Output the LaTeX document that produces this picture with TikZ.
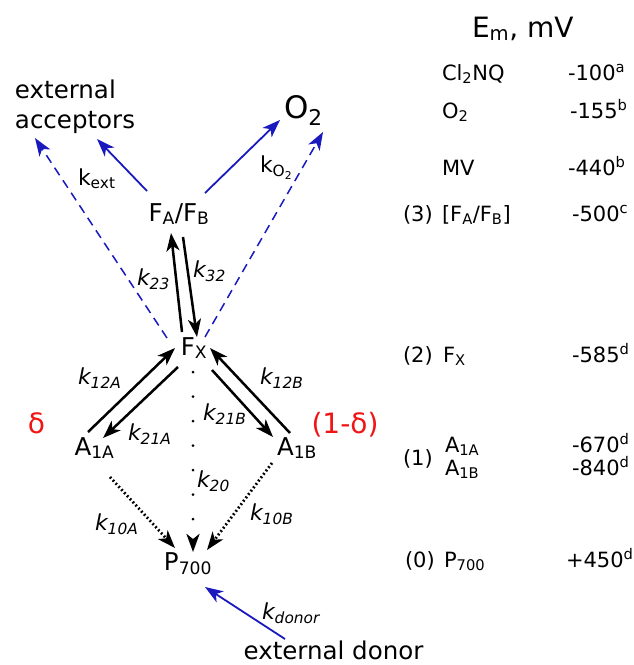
\documentclass[tikz,border=0pt]{standalone}
\usepackage{fontspec}
\setmainfont{DejaVu Sans}
\usetikzlibrary{arrows.meta,calc}
\definecolor{myblue}{RGB}{25,25,190}
\definecolor{myred}{RGB}{240,20,20}
\newcommand{\sbs}[1]{\textsubscript{#1}}
\newcommand{\sps}[1]{\textsuperscript{#1}}
\begin{document}
\begin{tikzpicture}[x=1pt,y=-1pt,
  every node/.style={inner sep=0pt,outer sep=0pt},
  mainlbl/.style={font=\fontsize{24.5}{30}\selectfont},
  klbl/.style={font=\fontsize{22}{26}\selectfont\itshape,anchor=base west},
  kup/.style={font=\fontsize{22}{26}\selectfont,anchor=base west},
  redlbl/.style={font=\fontsize{28}{32}\selectfont,text=myred,anchor=base},
  tbl/.style={font=\fontsize{21}{25}\selectfont,anchor=base west},
  tip/.style={-{Stealth[length=18pt,width=13pt,inset=5pt,line cap=butt]}},
  blk/.style={line width=2.5pt,tip},
  blu/.style={draw=myblue,line width=1.8pt,tip},
  bludash/.style={draw=myblue,line width=1.5pt,dash pattern=on 9pt off 6pt,tip},
  dots/.style={line width=2.8pt,dash pattern=on 1.8pt off 2.4pt,tip},
  sparse/.style={line width=3pt,line cap=round,dash pattern=on 0pt off 24.5pt,tip}
]
\useasboundingbox (0,0) rectangle (634,665);

% main nodes
\node[mainlbl,anchor=north west,align=left] (ext) at (15,80) {external\\acceptors};
\node[font=\fontsize{31}{36}\selectfont,anchor=base west] (o2) at (284,118) {O\sbs{2}};
\node[mainlbl,anchor=base] (fab) at (179,221) {F\sbs{A}/F\sbs{B}};
\node[mainlbl,anchor=base] (fx) at (194,355) {F\sbs{X}};
\node[mainlbl,anchor=base] (a1a) at (94.5,455) {A\sbs{1A}};
\node[mainlbl,anchor=base] (a1b) at (297,455) {A\sbs{1B}};
\node[mainlbl,anchor=base] (p700) at (188,570) {P\sbs{700}};
\node[mainlbl,anchor=base] (donor) at (333.5,659) {external donor};

% red labels
\node[redlbl] (delta) at (36.5,433) {δ};
\node[redlbl] (odelta) at (345,433) {(1-δ)};

% connectors
\draw[blu] ($(fab.base)+(-32,-30)$) -- ($(ext.north west)+(82,59)$);
\draw[blu] ($(fab.base)+(26,-28)$) -- ($(o2.base west)+(-4,2)$);
\draw[bludash] ($(fx.base)+(-27,-17)$) -- ($(ext.north west)+(20,58)$);
\draw[bludash] ($(fx.base)+(11,-18)$) -- ($(o2.base west)+(39,14)$);
\draw[blk] ($(fx.base)+(-12,-23)$) -- ($(fab.base)+(-8,12)$);
\draw[blk] ($(fab.base)+(4,16)$) -- ($(fx.base)+(3,-18)$);
\draw[blk] ($(a1a.base)+(-6.5,-23)$) -- ($(fx.base)+(-19,-7)$);
\draw[blk] ($(fx.base)+(-16,12)$) -- ($(a1a.base)+(8.5,-17)$);
\draw[blk] ($(a1b.base)+(-7,-22)$) -- ($(fx.base)+(16,-7)$);
\draw[blk] ($(fx.base)+(18,15)$) -- ($(a1b.base)+(-24,-18)$);
\draw[sparse] ($(fx.base)+(-1,17)$) -- ($(p700.base)+(5,-18)$);
\draw[dots] ($(a1a.base)+(15.5,22)$) -- ($(p700.base)+(-13,-22)$);
\draw[dots] ($(a1b.base)+(-25,8)$) -- ($(p700.base)+(19,-20)$);
\draw[blu] ($(donor.base)+(-48.5,-20)$) -- ($(p700.base)+(17,17)$);

% rate labels
\node[kup] (kext) at (78,185) {k\sbs{ext}};
\node[kup] (ko2) at (260,172) {k\sbs{O\sbs{2}}};
\node[klbl] (k23) at (137,285) {k\sbs{23}};
\node[klbl] (k32) at (193,277) {k\sbs{32}};
\node[klbl] (k12a) at (78,384) {k\sbs{12A}};
\node[klbl] (k21a) at (128,440) {k\sbs{21A}};
\node[klbl] (k12b) at (260,384) {k\sbs{12B}};
\node[klbl] (k21b) at (203,420) {k\sbs{21B}};
\node[klbl] (k20) at (197,487) {k\sbs{20}};
\node[klbl] (k10a) at (95,530) {k\sbs{10A}};
\node[klbl] (k10b) at (250,520) {k\sbs{10B}};
\node[klbl] (kdon) at (262,619) {k\sbs{donor}};

% table
\node[font=\fontsize{28}{32}\selectfont,anchor=base west] (em) at (472,37) {E\sbs{m}, mV};
\node[tbl] (t1) at (442,80) {Cl\sbs{2}NQ};
\node[tbl] (v1) at (568,80) {-100\sps{a}};
\node[tbl] (t2) at (442,118) {O\sbs{2}};
\node[tbl] (v2) at (570,118) {-155\sps{b}};
\node[tbl] (t3) at (442,175) {MV};
\node[tbl] (v3) at (568,175) {-440\sps{b}};
\node[tbl] (n3) at (403,221) {(3)};
\node[tbl] (t4) at (442,221) {[F\sbs{A}/F\sbs{B}]};
\node[tbl] (v4) at (572,221) {-500\sps{c}};
\node[tbl] (n2) at (403,362) {(2)};
\node[tbl] (t5) at (443,362) {F\sbs{X}};
\node[tbl] (v5) at (572,362) {-585\sps{d}};
\node[tbl] (n1) at (403,465) {(1)};
\node[tbl] (t6) at (445,452) {A\sbs{1A}};
\node[tbl] (t7) at (445,475) {A\sbs{1B}};
\node[tbl] (v6) at (572,452) {-670\sps{d}};
\node[tbl] (v7) at (572,475) {-840\sps{d}};
\node[tbl] (n0) at (405,567) {(0)};
\node[tbl] (t8) at (444,567) {P\sbs{700}};
\node[tbl] (v8) at (566,567) {+450\sps{d}};
\end{tikzpicture}
\end{document}
